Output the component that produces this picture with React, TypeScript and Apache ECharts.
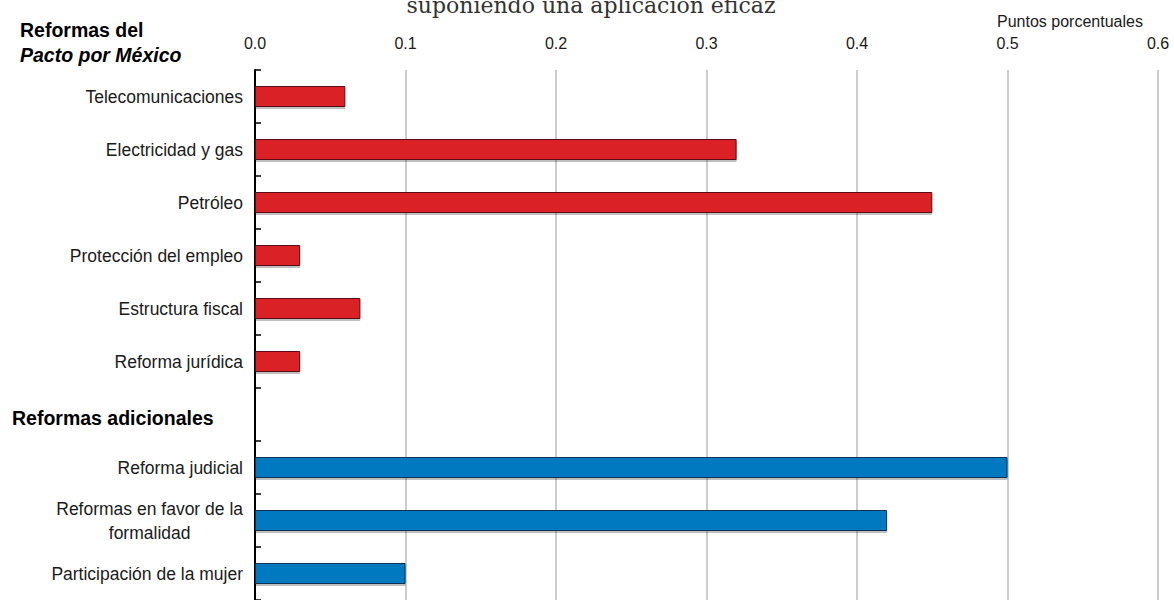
import React, { useEffect, useRef } from "react";
import * as echarts from "echarts";

const pactoCategories = [
  "Telecomunicaciones",
  "Electricidad y gas",
  "Petróleo",
  "Protección del empleo",
  "Estructura fiscal",
  "Reforma jurídica",
];
const pactoValues = [0.06, 0.32, 0.45, 0.03, 0.07, 0.03];

const adicionalesCategories = [
  "Reforma judicial",
  "Reformas en favor de la\nformalidad",
  "Participación de la mujer",
];
const adicionalesValues = [0.5, 0.42, 0.1];

const xTicks = [0, 0.1, 0.2, 0.3, 0.4, 0.5, 0.6];

const titleText = "suponiendo una aplicación eficaz";
const unitText = "Puntos porcentuales";
const header1a = "Reformas del";
const header1b = "Pacto por México";
const header2 = "Reformas adicionales";

const RED = "#da2128";
const RED_BORDER = "#5a1014";
const BLUE = "#0079c1";
const BLUE_BORDER = "#0d3352";

const SANS = "'Liberation Sans', Arial, sans-serif";

export default function App() {
  const ref = useRef<HTMLDivElement>(null);

  useEffect(() => {
    if (!ref.current) return;
    const chart = echarts.init(ref.current, null, { renderer: "svg" });

    const categories = [...pactoCategories, "", ...adicionalesCategories];
    const data: any[] = [
      ...pactoValues.map((v) => ({
        value: v,
        itemStyle: { color: RED, borderColor: RED_BORDER },
      })),
      { value: null },
      ...adicionalesValues.map((v) => ({
        value: v,
        itemStyle: { color: BLUE, borderColor: BLUE_BORDER },
      })),
    ];

    chart.setOption({
      animation: false,
      backgroundColor: "#ffffff",
      grid: { left: 255, right: 16, top: 70, height: 532, containLabel: false },
      xAxis: {
        type: "value",
        position: "top",
        min: xTicks[0],
        max: xTicks[xTicks.length - 1],
        interval: 0.1,
        axisLine: { show: false },
        axisTick: { show: false },
        axisLabel: {
          margin: 19,
          fontSize: 16,
          fontFamily: SANS,
          color: "#1a1a1a",
          formatter: (v: number) => v.toFixed(1),
        },
        splitLine: { show: true, lineStyle: { color: "#cccccc", width: 2 } },
      },
      yAxis: {
        type: "category",
        inverse: true,
        data: categories,
        axisLine: { show: true, lineStyle: { color: "#000000", width: 2 } },
        axisTick: {
          show: true,
          inside: true,
          length: 6,
          lineStyle: { color: "#000000", width: 1.5 },
        },
        axisLabel: {
          margin: 12,
          fontSize: 17.5,
          fontFamily: SANS,
          color: "#1a1a1a",
          formatter: (v: string) =>
            v.includes("\n")
              ? v
                  .split("\n")
                  .map((l) => `{c|${l}}`)
                  .join("\n")
              : v,
          rich: {
            c: {
              align: "center",
              fontSize: 17.5,
              fontFamily: SANS,
              color: "#1a1a1a",
              lineHeight: 24,
            },
          },
        },
        splitLine: { show: false },
      },
      series: [
        {
          type: "bar",
          data,
          barWidth: 21,
          itemStyle: {
            borderWidth: 1,
            shadowColor: "rgba(0,0,0,0.25)",
            shadowOffsetY: 2,
            shadowOffsetX: 0,
            shadowBlur: 1,
          },
        },
      ],
      graphic: [
        {
          type: "text",
          x: 591,
          y: 5,
          style: {
            text: titleText,
            font: "22px 'DejaVu Serif', 'Liberation Serif', serif",
            fill: "#333333",
            align: "center",
            verticalAlign: "middle",
          },
        },
        {
          type: "text",
          x: 997,
          y: 21,
          style: {
            text: unitText,
            font: `16px ${SANS}`,
            fill: "#1a1a1a",
            verticalAlign: "middle",
          },
        },
        {
          type: "text",
          x: 20,
          y: 30,
          style: {
            text: header1a,
            font: `bold 19.5px ${SANS}`,
            fill: "#000000",
            verticalAlign: "middle",
          },
        },
        {
          type: "text",
          x: 20,
          y: 55,
          style: {
            text: header1b,
            font: `italic bold 19.5px ${SANS}`,
            fill: "#000000",
            verticalAlign: "middle",
          },
        },
        {
          type: "text",
          x: 12,
          y: 418,
          style: {
            text: header2,
            font: `bold 19.5px ${SANS}`,
            fill: "#000000",
            verticalAlign: "middle",
          },
        },
      ],
    });

    return () => chart.dispose();
  }, []);

  return (
    <div
      ref={ref}
      style={{ position: "absolute", left: 0, top: 0, width: 1174, height: 600 }}
    />
  );
}
